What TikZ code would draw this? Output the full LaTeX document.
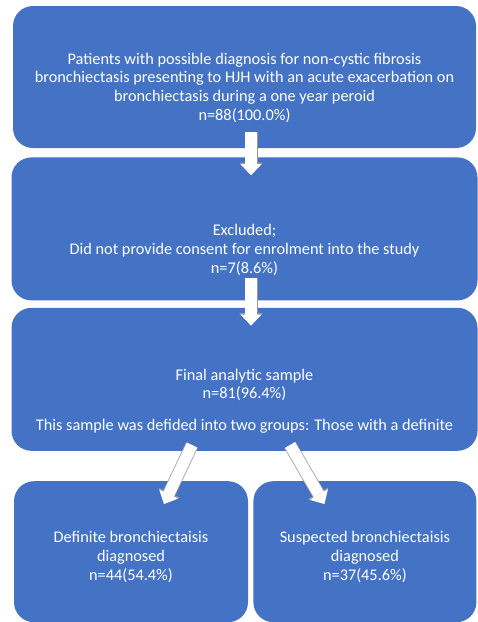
\documentclass[tikz,border=0pt]{standalone}
\usepackage{fontspec}
\setmainfont{Carlito}
\usetikzlibrary{positioning,arrows.meta}
\definecolor{boxblue}{HTML}{4472C4}

\begin{document}
\begin{tikzpicture}[x=1pt,y=1pt,
  box/.style={fill=boxblue,text=white,rounded corners=20pt,align=center,
    inner sep=0pt,font=\fontsize{16.3}{18.7}\selectfont},
  bigarrow/.style={draw=white,line width=11.5pt,
    -{Triangle[length=11pt,width=21pt,line width=0pt]},
    preaction={draw=black!40,line width=13pt,
      -{Triangle[length=12.5pt,width=23.5pt,line width=0pt]}}}]
\useasboundingbox (0,0) rectangle (478,-622);
\node[box,minimum width=463pt,minimum height=142pt,text height=89pt] (box1) at (244.5,-77) {
Patients with possible diagnosis for non-cystic fibrosis\\
bronchiectasis presenting to HJH with an acute exacerbation on\\
bronchiectasis during a one year peroid\\
n=88(100.0\%)
};
\node[box,below=9pt of box1,minimum width=466pt,minimum height=143pt,text height=91pt] (box2) {
Excluded;\\
Did not provide consent for enrolment into the study\\
n=7(8.6\%)
};
\node[box,below=7pt of box2,minimum width=466pt,minimum height=143pt,text height=105pt] (box3) {
Final analytic sample\\
n=81(96.4\%)\\[13pt]
This sample was defided into two groups: Those with a definite
};
\node[box,below right=30pt and 2.5pt of box3.south west,minimum width=234pt,minimum height=141pt,text height=59pt] (box4) {
Definite bronchiectaisis\\
diagnosed\\
n=44(54.4\%)
};
\node[box,right=5pt of box4,minimum width=223pt,minimum height=141pt,text height=59pt] (box5) {
Suspected bronchiectaisis\\
diagnosed\\
n=37(45.6\%)
};
\draw[bigarrow] ([xshift=6.5pt,yshift=16pt]box1.south) -- ([xshift=6.5pt,yshift=-18pt]box2.north);
\draw[bigarrow] ([xshift=6.5pt,yshift=23pt]box2.south) -- ([xshift=6.5pt,yshift=-18pt]box3.north);
\draw[bigarrow] ([xshift=-52.5pt,yshift=6pt]box3.south) -- ([xshift=33pt,yshift=-23pt]box4.north);
\draw[bigarrow] ([xshift=45.5pt,yshift=6pt]box3.south) -- ([xshift=-40.5pt,yshift=-23pt]box5.north);
\end{tikzpicture}
\end{document}
